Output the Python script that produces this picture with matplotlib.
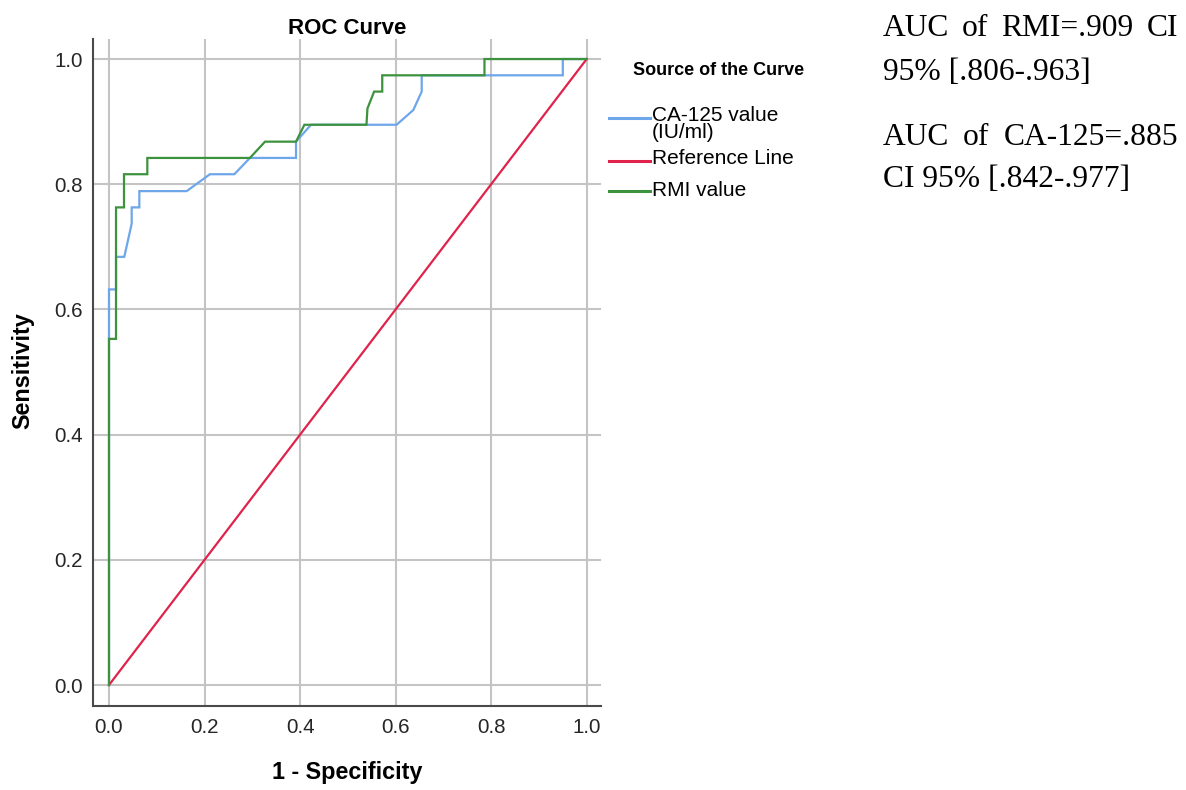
import matplotlib
matplotlib.use("Agg")
import numpy as np
import matplotlib.pyplot as plt
from matplotlib.legend_handler import HandlerLine2D
from matplotlib.lines import Line2D

# ---- data ----
ca125_fpr = [0.0, 0.0, 0.0147, 0.0147, 0.032, 0.0475, 0.0475, 0.0635, 0.0635, 0.1626,
             0.2114, 0.2624, 0.295, 0.3915, 0.3915, 0.4229, 0.602, 0.637, 0.6546, 0.6546,
             0.950, 0.950, 1.0]
ca125_tpr = [0.0, 0.632, 0.632, 0.684, 0.684, 0.737, 0.763, 0.763, 0.789, 0.789,
             0.816, 0.816, 0.842, 0.842, 0.868, 0.895, 0.895, 0.9185, 0.948, 0.974,
             0.974, 1.0, 1.0]
rmi_fpr = [0.0, 0.0, 0.0147, 0.0147, 0.0314, 0.0314, 0.0802, 0.0802, 0.295, 0.3266,
           0.3915, 0.409, 0.539, 0.541, 0.555, 0.572, 0.572, 0.786, 0.786, 1.0]
rmi_tpr = [0.0, 0.553, 0.553, 0.763, 0.763, 0.816, 0.816, 0.842, 0.842, 0.868,
           0.868, 0.895, 0.895, 0.921, 0.948, 0.948, 0.974, 0.974, 1.0, 1.0]
ref_x = [0.0, 1.0]
ref_y = [0.0, 1.0]
ticks = [0.0, 0.2, 0.4, 0.6, 0.8, 1.0]
tick_labels = ["0.0", "0.2", "0.4", "0.6", "0.8", "1.0"]
series_labels = ["CA-125 value\n(IU/ml)", "Reference Line", "RMI value"]
auc_lines = ["AUC of RMI=.909 CI", "95% [.806-.963]", "AUC of CA-125=.885", "CI 95% [.842-.977]"]

W, H = 1186, 790
fig = plt.figure(figsize=(W / 100, H / 100), dpi=100)
fig.patch.set_facecolor("white")

# axes box in pixels: left 93, right 601.5, top 39, bottom 706
L, R, T, B = 93, 601.5, 39, 706
ax = fig.add_axes([L / W, 1 - B / H, (R - L) / W, (B - T) / H])

sans = "Liberation Sans"
blue = "#6ea6ea"
red = "#e0234c"
green = "#3d923d"

l1, = ax.plot(ca125_fpr, ca125_tpr, color=blue, lw=1.6, solid_joinstyle="miter", zorder=3)
l2, = ax.plot(ref_x, ref_y, color=red, lw=1.6, zorder=3)
l3, = ax.plot(rmi_fpr, rmi_tpr, color=green, lw=1.6, solid_joinstyle="miter", zorder=4)

ax.set_xlim(-0.0335, 1.031)
ax.set_ylim(-0.0335, 1.032)
ax.set_xticks(ticks)
ax.set_xticklabels(tick_labels, fontfamily=sans, fontsize=14.8, color="#262626")
ax.set_yticks(ticks)
ax.set_yticklabels(tick_labels, fontfamily=sans, fontsize=14.8, color="#262626")
ax.tick_params(axis="both", length=0)
ax.tick_params(axis="x", pad=8.5)
ax.tick_params(axis="y", pad=7.4)
ax.grid(True, color="#c4c4c4", lw=1.5)
ax.set_axisbelow(True)
for s in ["top", "right"]:
    ax.spines[s].set_visible(False)
for s in ["left", "bottom"]:
    ax.spines[s].set_color("#4a4a4a")
    ax.spines[s].set_linewidth(1.5)

ax.set_title("ROC Curve", fontfamily=sans, fontweight="bold", fontsize=16, pad=0)
ax.title.set_va("center")
ax.title.set_y((B - 18.5) / (B - T))

ax.set_xlabel("1 - Specificity", fontfamily=sans, fontweight="bold", fontsize=16.8)
ax.xaxis.label.set_va("center")
ax.xaxis.set_label_coords(0.5, (B - 773) / (B - T))
ax.set_ylabel("Sensitivity", fontfamily=sans, fontweight="bold", fontsize=16.8)
ax.yaxis.label.set_va("center")
ax.yaxis.set_label_coords((22.5 - L) / (R - L), (B - 371) / (B - T))


class ShiftedLineHandler(HandlerLine2D):
    """Legend line handler that nudges the swatch vertically (points)."""
    def __init__(self, dy_pt=0.0, **kw):
        super().__init__(**kw)
        self.dy_pt = dy_pt

    def create_artists(self, legend, orig_handle, xdescent, ydescent, width, height,
                       fontsize, trans):
        artists = super().create_artists(legend, orig_handle, xdescent, ydescent,
                                         width, height, fontsize, trans)
        for a in artists:
            if isinstance(a, Line2D):
                a.set_ydata(np.asarray(a.get_ydata(), dtype=float) + self.dy_pt)
        return artists


# legend title
fig.text(719 / W, 1 - 70.7 / H, "Source of the Curve", fontfamily=sans, fontweight="bold",
         fontsize=13, ha="center", va="center")

# one legend per entry so the uneven SPSS spacing can be matched
entry_centers = [124.0, 158.5, 191.0]      # pixel y of each entry's text block centre
entry_shift_px = [6.0, -4.0, -1.5]         # swatch offset relative to text centre (up +)
for handle, label, yc, dpx in zip([l1, l2, l3], series_labels, entry_centers, entry_shift_px):
    leg = fig.legend([handle], [label], loc="center left",
                     bbox_to_anchor=(609 / W, 1 - yc / H), frameon=False,
                     prop={"family": sans, "size": 15}, handlelength=1.95,
                     handletextpad=0.12, borderpad=0, borderaxespad=0,
                     handler_map={handle: ShiftedLineHandler(dy_pt=dpx * 0.72)})
    leg.get_texts()[0].set_linespacing(0.92)
    for ln in leg.get_lines():
        ln.set_linewidth(2.2)

# right-hand text block
serif = "Liberation Serif"
fs_serif = 22.7
fig.canvas.draw()
renderer = fig.canvas.get_renderer()
baselines = [36, 80, 145, 187]
justify = [True, False, True, False]
x_left, x_right = 883, 1178
for line, bl, jus in zip(auc_lines, baselines, justify):
    yfig = 1 - bl / H
    if not jus:
        fig.text(x_left / W, yfig, line, fontfamily=serif, fontsize=fs_serif, ha="left", va="baseline")
        continue
    words = line.split(" ")
    objs = [fig.text(0, yfig, w, fontfamily=serif, fontsize=fs_serif, ha="left", va="baseline")
            for w in words]
    widths = [o.get_window_extent(renderer).width for o in objs]
    gap = (x_right - x_left - sum(widths)) / (len(words) - 1)
    x = x_left
    for o, wdt in zip(objs, widths):
        o.set_x(x / W)
        x += wdt + gap

fig.savefig("out.png", dpi=100, facecolor="white")
